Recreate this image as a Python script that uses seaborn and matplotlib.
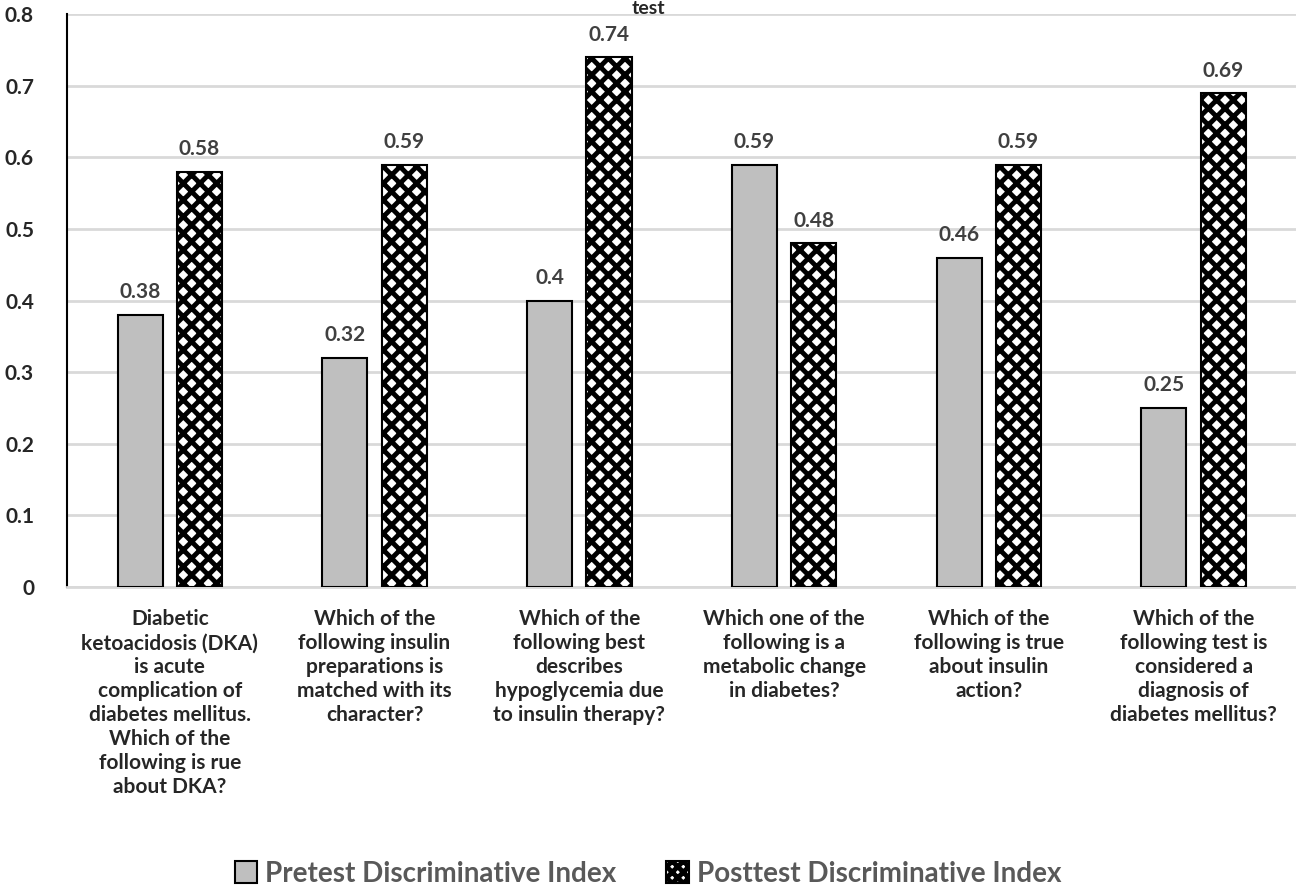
import pandas as pd
import matplotlib.pyplot as plt
import seaborn as sns

questions = [
    "Diabetic\nketoacidosis (DKA)\nis acute\ncomplication of\ndiabetes mellitus.\nWhich of the\nfollowing is rue\nabout DKA?",
    "Which of the\nfollowing insulin\npreparations is\nmatched with its\ncharacter?",
    "Which of the\nfollowing best\ndescribes\nhypoglycemia due\nto insulin therapy?",
    "Which one of the\nfollowing is a\nmetabolic change\nin diabetes?",
    "Which of the\nfollowing is true\nabout insulin\naction?",
    "Which of the\nfollowing test is\nconsidered a\ndiagnosis of\ndiabetes mellitus?",
]
pretest = [0.38, 0.32, 0.40, 0.59, 0.46, 0.25]
posttest = [0.58, 0.59, 0.74, 0.48, 0.59, 0.69]
series = ["Pretest Discriminative Index", "Posttest Discriminative Index"]

df = pd.DataFrame({
    "question": questions * 2,
    "value": pretest + posttest,
    "series": [series[0]] * 6 + [series[1]] * 6,
})

sns.set_style("white")
plt.rcParams['font.family'] = ['Lato', 'DejaVu Sans']
plt.rcParams['hatch.linewidth'] = 3.5
plt.rcParams['hatch.color'] = 'black'

fig = plt.figure(figsize=(12.96, 8.92), dpi=100)
ax = fig.add_axes([0.052, 0.342, 0.948, 0.642])

sns.barplot(data=df, x="question", y="value", hue="series",
            palette=["#bfbfbf", "white"], width=0.58, gap=0.24,
            edgecolor="black", linewidth=1.5, ax=ax, zorder=3)

for patch in ax.containers[1]:
    patch.set_hatch("xx")

for cont, vals in zip(ax.containers, [pretest, posttest]):
    ax.bar_label(cont, labels=[f"{v:g}" for v in vals], padding=9,
                 fontsize=15, fontweight="bold", color="#404040")

ax.set_ylim(0, 0.8)
ax.set_yticks([0, 0.1, 0.2, 0.3, 0.4, 0.5, 0.6, 0.7, 0.8])
ax.set_yticklabels(["0", "0.1", "0.2", "0.3", "0.4", "0.5", "0.6", "0.7", "0.8"])
ax.tick_params(axis="y", labelsize=15, length=0, pad=24)
ax.tick_params(axis="x", labelsize=15, length=0, pad=16)
for lab in ax.get_yticklabels() + ax.get_xticklabels():
    lab.set_fontweight("bold")
for lab in ax.get_xticklabels():
    lab.set_linespacing(1.25)
    lab.set_verticalalignment("top")

ax.yaxis.grid(True, color="#d9d9d9", linewidth=2, zorder=0)
ax.set_axisbelow(True)
for s in ["top", "right"]:
    ax.spines[s].set_visible(False)
ax.spines["left"].set_color("black")
ax.spines["left"].set_linewidth(1.5)
ax.spines["bottom"].set_color("#d9d9d9")
ax.spines["bottom"].set_linewidth(2)
ax.set_xlabel("")
ax.set_ylabel("")
ax.set_xlim(-0.5, 5.5)

handles, labels = ax.get_legend_handles_labels()
ax.legend_.remove()
for h in handles:
    h.set_edgecolor("black")
handles[1].set_hatch("xxx")
fig.legend(handles, labels, loc="lower center", bbox_to_anchor=(0.5, -0.022),
           ncol=2, frameon=False, handlelength=0.8,
           handleheight=0.8, handletextpad=0.3, columnspacing=1.8,
           labelcolor="#595959", prop={"weight": "bold", "size": 20})

fig.text(0.5, 1.0, "test", ha="center", va="top", fontsize=14,
         fontweight="bold")

fig.savefig("out.png", dpi=100)
